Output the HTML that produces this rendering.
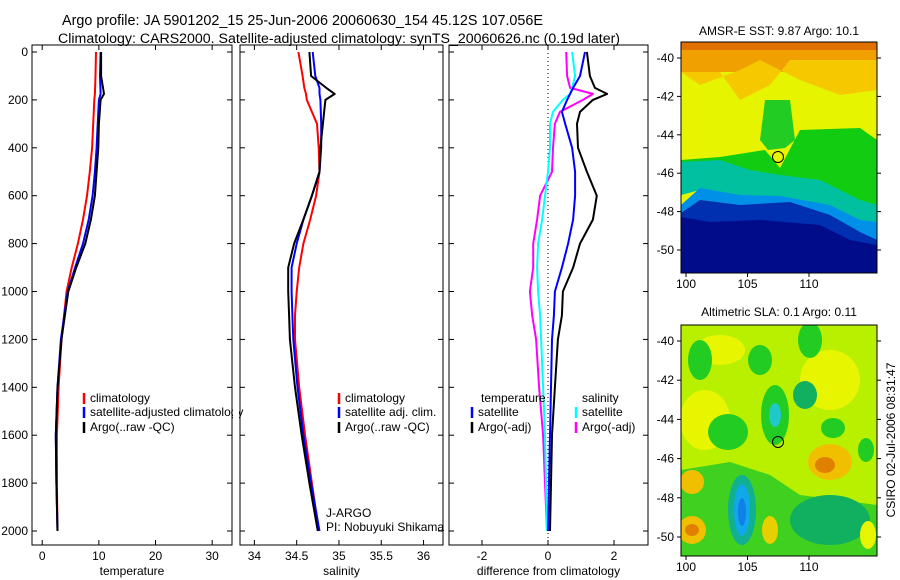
<!DOCTYPE html>
<html><head><meta charset="utf-8"><style>
body{margin:0;background:#fff;}
svg{display:block;font-family:"Liberation Sans",sans-serif;}
</style></head><body>
<svg id="chart" width="900" height="580" viewBox="0 0 900 580">
<rect width="900" height="580" fill="#fff"/>
<text x="62" y="25" font-size="14.4" textLength="481" lengthAdjust="spacingAndGlyphs">Argo profile: JA 5901202_15 25-Jun-2006 20060630_154 45.12S 107.056E</text>
<text x="58" y="43" font-size="14.2" textLength="562" lengthAdjust="spacingAndGlyphs">Climatology: CARS2000. Satellite-adjusted climatology: synTS_20060626.nc (0.19d later)</text>

<!-- SST map -->
<g>
<text x="779" y="35" font-size="12" text-anchor="middle">AMSR-E SST: 9.87 Argo: 10.1</text>
<clipPath id="c1"><rect x="681" y="42" width="196" height="231"/></clipPath>
<g clip-path="url(#c1)">
<rect x="681" y="42" width="196" height="231" fill="#e6f400"/>
<rect x="681" y="42" width="196" height="30" fill="#f0a000"/>
<path d="M681,72 L720,72 L740,100 L770,85 L790,60 L877,60 L877,90 L840,95 L800,80 L780,70 L760,60 L740,70 L700,85 Z" fill="#f5c800"/>
<rect x="681" y="42" width="196" height="8" fill="#e07000"/>
<path d="M765,100 L790,100 L795,140 L785,148 L768,150 L760,140 Z" fill="#22cc22"/>
<path d="M681,160 L720,157 L765,150 L780,168 L800,130 L860,128 L877,140 L877,210 L840,205 L800,195 L760,190 L681,172 Z" fill="#11cc11"/>
<path d="M681,162 L720,160 L750,170 L780,175 L820,180 L860,200 L877,205 L877,230 L840,220 L800,205 L760,198 L700,190 L681,195 Z" fill="#00c0a0"/>
<path d="M681,205 L700,188 L740,195 L780,196 L830,205 L860,220 L877,222 L877,245 L681,245 Z" fill="#0090e8"/>
<path d="M681,213 L700,200 L740,205 L790,202 L830,215 L860,232 L877,240 L877,273 L681,273 Z" fill="#0030b0"/>
<path d="M681,217 L710,222 L760,220 L820,225 L850,240 L877,245 L877,273 L681,273 Z" fill="#000c8a"/>
</g>
<rect x="681" y="42" width="196" height="231" fill="none" stroke="#000"/>
<circle cx="778" cy="157" r="5.5" fill="none" stroke="#000"/>
</g>

<!-- SLA map -->
<g>
<text x="779" y="316" font-size="12" text-anchor="middle">Altimetric SLA: 0.1 Argo: 0.11</text>
<clipPath id="c2"><rect x="681" y="325" width="196" height="231"/></clipPath>
<g clip-path="url(#c2)">
<rect x="681" y="325" width="196" height="231" fill="#b8f000"/>
<ellipse cx="720" cy="350" rx="25" ry="15" fill="#e8f500"/>
<ellipse cx="830" cy="380" rx="30" ry="30" fill="#e8f500"/>
<ellipse cx="705" cy="420" rx="25" ry="30" fill="#e8f500"/>
<ellipse cx="700" cy="360" rx="12" ry="20" fill="#22cc22"/>
<ellipse cx="760" cy="360" rx="12" ry="15" fill="#22cc22"/>
<ellipse cx="810" cy="340" rx="12" ry="18" fill="#22cc22"/>
<ellipse cx="775" cy="415" rx="14" ry="30" fill="#22cc22"/>
<ellipse cx="805" cy="395" rx="12" ry="14" fill="#10b060"/>
<ellipse cx="775" cy="415" rx="6" ry="12" fill="#20c8c8"/>
<ellipse cx="833" cy="428" rx="12" ry="10" fill="#22cc22"/>
<ellipse cx="728" cy="432" rx="20" ry="18" fill="#22cc22"/>
<ellipse cx="830" cy="462" rx="22" ry="18" fill="#f0c000"/>
<ellipse cx="825" cy="465" rx="10" ry="8" fill="#e08000"/>
<ellipse cx="866" cy="450" rx="8" ry="12" fill="#22cc22"/>
<path d="M681,470 L730,462 L770,475 L800,495 L877,505 L877,556 L681,556 Z" fill="#40d020"/>
<ellipse cx="830" cy="520" rx="40" ry="25" fill="#10b060"/>
<ellipse cx="692" cy="482" rx="12" ry="12" fill="#f0c000"/>
<ellipse cx="692" cy="530" rx="14" ry="14" fill="#f0c000"/>
<ellipse cx="692" cy="530" rx="7" ry="6" fill="#e08000"/>
<ellipse cx="770" cy="530" rx="8" ry="14" fill="#e8d000"/>
<ellipse cx="742" cy="510" rx="14" ry="35" fill="#10b090"/>
<ellipse cx="742" cy="510" rx="8" ry="26" fill="#10a8e8"/>
<ellipse cx="742" cy="512" rx="4" ry="14" fill="#1080e8"/>
<ellipse cx="868" cy="535" rx="8" ry="14" fill="#e8f500"/>
</g>
<rect x="681" y="325" width="196" height="231" fill="none" stroke="#000"/>
<circle cx="778" cy="442" r="5.5" fill="none" stroke="#000"/>
</g>
<text transform="translate(895,440) rotate(-90)" font-size="12" text-anchor="middle">CSIRO 02-Jul-2006 08:31:47</text>

<g id="plots"></g>
</svg>
<script>
const depthsT = [0,100,175,200,300,400,500,600,700,800,900,1000,1200,1400,1600,1800,2000];
const argoT = [10.4,10.4,10.9,10.3,10.0,9.9,9.6,9.3,8.6,7.6,6.0,4.6,3.4,2.7,2.4,2.5,2.7];
const satT = [10.3,10.2,10.3,10.0,9.8,9.6,9.3,8.9,8.2,7.2,5.8,4.5,3.3,2.7,2.4,2.5,2.7];
const climT = [9.5,9.4,9.3,9.2,9.0,8.8,8.4,7.9,7.2,6.3,5.2,4.3,3.4,2.9,2.6,2.6,2.7];

const depthsS = [0,100,150,175,200,300,400,500,600,700,800,900,1000,1100,1200,1400,1600,1800,2000];
const argoS = [34.65,34.67,34.85,34.95,34.84,34.81,34.78,34.77,34.68,34.58,34.47,34.40,34.40,34.41,34.42,34.48,34.56,34.65,34.75];
const satS = [34.69,34.72,34.77,34.77,34.78,34.79,34.79,34.77,34.68,34.58,34.50,34.44,34.44,34.45,34.46,34.51,34.58,34.67,34.77];
const climS = [34.52,34.57,34.59,34.61,34.62,34.74,34.76,34.77,34.73,34.66,34.58,34.53,34.50,34.48,34.48,34.53,34.60,34.68,34.76];

const depthsD = [0,100,150,175,200,250,300,400,500,600,700,800,900,1000,1100,1200,1400,1600,1800,2000];
const dTempArgo = [1.18,1.27,1.42,1.79,1.36,0.97,0.88,0.91,1.18,1.48,1.36,0.97,0.76,0.45,0.42,0.30,0.21,0.12,0.09,0.06];
const dTempSat = [1.12,0.97,0.76,0.67,0.58,0.42,0.52,0.73,0.82,0.82,0.76,0.61,0.42,0.21,0.18,0.12,0.09,0.06,0.03,0.0];
const dSalSat = [0.73,0.82,0.73,0.67,0.45,0.15,0.06,0.06,0,-0.09,-0.18,-0.3,-0.33,-0.3,-0.24,-0.21,-0.15,-0.09,-0.06,-0.03];
const dSalArgo = [0.55,0.58,0.67,1.36,1.06,0.36,0.21,0.15,0.12,-0.24,-0.33,-0.45,-0.45,-0.55,-0.48,-0.36,-0.27,-0.15,-0.09,-0.03];

const depthTicks = [0,200,400,600,800,1000,1200,1400,1600,1800,2000];
const tTicks = [0,10,20,30];
const sTicks = [34,34.5,35,35.5,36];
const dTicks = [-2,0,2];
const latTicks = [-40,-42,-44,-46,-48,-50];
const lonTicks = [100,105,110];

const NS="http://www.w3.org/2000/svg";
const root=document.getElementById('plots');
function mk(tag,attrs,parent){const e=document.createElementNS(NS,tag);for(const k in attrs)e.setAttribute(k,attrs[k]);(parent||root).appendChild(e);return e;}
const y0=52, y1=531;
function yD(d){return y0+(d/2000)*(y1-y0);}
const panelTop=45, panelBot=545;

function panel(name,x0,x1,vmin,vmax,ticks,xlabel,showY){
  const g=mk('g',{});
  
  
  const sx=v=>x0+(v-vmin)/(vmax-vmin)*(x1-x0);
  const fr=mk('rect',{x:x0,y:panelTop,width:x1-x0,height:panelBot-panelTop,fill:'none',stroke:'#000'},g);
  
  
  ticks.forEach(t=>{
    const X=sx(t);
    mk('line',{x1:X,x2:X,y1:panelBot,y2:panelBot-5,stroke:'#000'},g);
    mk('line',{x1:X,x2:X,y1:panelTop,y2:panelTop+5,stroke:'#000'},g);
    const tx=mk('text',{x:X,y:panelBot+15,'font-size':12,'text-anchor':'middle'},g);
    tx.textContent=t;
    
    
  });
  depthTicks.forEach(d=>{
    const Y=yD(d);
    mk('line',{x1:x0,x2:x0+5,y1:Y,y2:Y,stroke:'#000'},g);
    mk('line',{x1:x1,x2:x1-5,y1:Y,y2:Y,stroke:'#000'},g);
    if(showY){const tx=mk('text',{x:x0-4,y:Y+4,'font-size':12,'text-anchor':'end'},g);tx.textContent=d;
      
      }
  });
  const xl=mk('text',{x:(x0+x1)/2,y:panelBot+30,'font-size':12,'text-anchor':'middle'},g);
  xl.textContent=xlabel;
  
  
  return {g,sx};
}
function line(p,depths,vals,color,w,nm){
  const pts=depths.map((d,i)=>p.sx(vals[i]).toFixed(1)+','+yD(d).toFixed(1)).join(' ');
  const pl=mk('polyline',{points:pts,fill:'none',stroke:color,'stroke-width':w,'stroke-linejoin':'round'},p.g);
  
  
}
function legend(g,x,y,color,label,nm){
  if(color) mk('line',{x1:x,x2:x,y1:y-9,y2:y+2,stroke:color,'stroke-width':2.5},g);
  const t=mk('text',{x:x+6,y:y,'font-size':12},g);t.textContent=label;
  
  
}

const pT=panel('temperature-panel',32,232,-1.8,33.5,tTicks,'temperature',true);
line(pT,depthsT,climT,'#f00',2,'temp-climatology-line');
line(pT,depthsT,satT,'#00f',2,'temp-satellite-line');
line(pT,depthsT,argoT,'#000',2,'temp-argo-line');
legend(pT.g,84,402,'#f00','climatology','legend-climatology');
legend(pT.g,84,416,'#00f','satellite-adjusted climatology','legend-satellite');
legend(pT.g,84,431,'#000','Argo(..raw -QC)','legend-argo');
mk('rect',{x:233,y:390,width:6,height:50,fill:'#fff'},pT.g);

const pS=panel('salinity-panel',240,443,33.83,36.23,sTicks,'salinity',false);
line(pS,depthsS,climS,'#f00',2,'sal-climatology-line');
line(pS,depthsS,satS,'#00f',2,'sal-satellite-line');
line(pS,depthsS,argoS,'#000',2,'sal-argo-line');
legend(pS.g,339,402,'#f00','climatology','legend-climatology');
legend(pS.g,339,416,'#00f','satellite adj. clim.','legend-satellite');
legend(pS.g,339,431,'#000','Argo(..raw -QC)','legend-argo');
legend(pS.g,320,517,null,'J-ARGO','float-agency');
legend(pS.g,320,531,null,'PI: Nobuyuki Shikama','float-pi');
mk('rect',{x:444,y:505,width:4,height:40,fill:'#fff'},pS.g);

const pD=panel('difference-panel',449,648,-3.0,3.03,dTicks,'difference from climatology',false);
mk('line',{x1:pD.sx(0),x2:pD.sx(0),y1:panelTop,y2:panelBot,stroke:'#000','stroke-dasharray':'1,3'},pD.g);
line(pD,depthsD,dSalArgo,'#f0f',2,'diff-sal-argo-line');
line(pD,depthsD,dSalSat,'#0ff',2,'diff-sal-satellite-line');
line(pD,depthsD,dTempSat,'#00f',2,'diff-temp-satellite-line');
line(pD,depthsD,dTempArgo,'#000',2,'diff-temp-argo-line');
legend(pD.g,475,402,null,'temperature','legend-temperature-heading');
legend(pD.g,472,416,'#00f','satellite','legend-temp-satellite');
legend(pD.g,472,431,'#000','Argo(-adj)','legend-temp-argo');
legend(pD.g,576,402,null,'salinity','legend-salinity-heading');
legend(pD.g,576,416,'#0ff','satellite','legend-sal-satellite');
legend(pD.g,576,431,'#f0f','Argo(-adj)','legend-sal-argo');

function mapAxes(nm,top,bot){
  const g=mk('g',{});
  
  
  const latY=v=>top+( -40 - v)/10*(bot-top);
  const lonX=v=>686+(v-100)*12.3;
  latTicks.forEach(v=>{const Y=latY(v);
    mk('line',{x1:681,x2:677,y1:Y,y2:Y,stroke:'#000'},g);
    mk('line',{x1:877,x2:881,y1:Y,y2:Y,stroke:'#000'},g);
    const t=mk('text',{x:674,y:Y+4,'font-size':12,'text-anchor':'end'},g);t.textContent=v;
    
    });
  const mb=nm==='sst-map-axes'?273:556;
  lonTicks.forEach(v=>{const X=lonX(v);
    mk('line',{x1:X,x2:X,y1:mb,y2:mb+4,stroke:'#000'},g);
    const t=mk('text',{x:X,y:mb+15,'font-size':12,'text-anchor':'middle'},g);t.textContent=v;
    
    });
}
mapAxes('sst-map-axes',58,250);
mapAxes('sla-map-axes',341,537);
</script>
</body></html>
